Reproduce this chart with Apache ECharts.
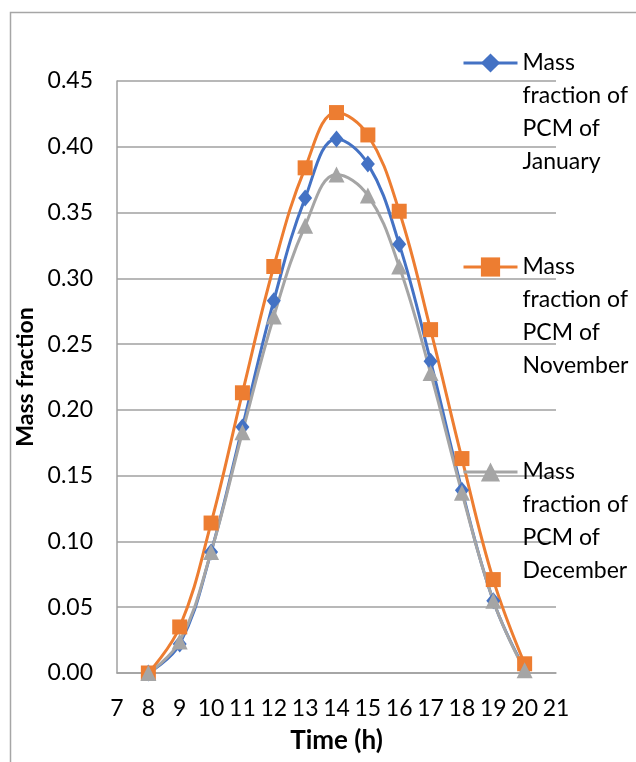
<!DOCTYPE html>
<html>
<head>
<meta charset="utf-8">
<script src="https://cdn.jsdelivr.net/npm/echarts@6/dist/echarts.min.js"></script>
<style>
  html, body { margin: 0; padding: 0; background: #fff; }
  #chart { width: 636px; height: 762px; }
</style>
</head>
<body>
<div id="chart"></div>
<script>
(function () {
    // data
    var hours = [8, 9, 10, 11, 12, 13, 14, 15, 16, 17, 18, 19, 20];
    var january = [0, 0.022, 0.092, 0.187, 0.283, 0.361, 0.406, 0.387, 0.326, 0.237, 0.139, 0.055, 0.003];
    var november = [0, 0.035, 0.114, 0.213, 0.309, 0.384, 0.426, 0.409, 0.351, 0.261, 0.163, 0.071, 0.007];
    var december = [0, 0.024, 0.092, 0.183, 0.271, 0.340, 0.379, 0.363, 0.309, 0.228, 0.137, 0.055, 0.002];
    var seriesNames = ['Mass fraction of PCM of January', 'Mass fraction of PCM of November', 'Mass fraction of PCM of December'];
    var legendLines = {
        'Mass fraction of PCM of January': ['Mass', 'fraction of', 'PCM of', 'January'],
        'Mass fraction of PCM of November': ['Mass', 'fraction of', 'PCM of', 'November'],
        'Mass fraction of PCM of December': ['Mass', 'fraction of', 'PCM of', 'December']
    };

    var font = 'Lato, "Open Sans", sans-serif';
    var gridColor = '#a0a0a0';
    var lineH = 33;

    function pairs(vals) {
        return hours.map(function (h, i) { return [h, vals[i]]; });
    }

    // legend text is centred on the icon, so pad with blank lines above
    // to put the first line ("Mass") level with the icon
    function legendAt(name, iconY) {
        var n = legendLines[name].length;
        var total = (2 * n - 1) * lineH;
        return {
            data: [name],
            left: 462,
            top: iconY - total / 2,
            padding: 0,
            itemWidth: 54,
            itemHeight: 24,
            selectedMode: false,
            lineStyle: { width: 3 },
            formatter: function (nm) {
                var lines = legendLines[nm];
                var pad = [];
                for (var i = 0; i < lines.length - 1; i++) pad.push(' ');
                return pad.concat(lines).join('\n');
            },
            textStyle: {
                fontFamily: font,
                fontSize: 23,
                color: '#000',
                lineHeight: lineH
            }
        };
    }

    var colors = ['#4472c4', '#ed7d31', '#a5a5a5'];

    var option = {
        animation: false,
        color: colors,
        graphic: [{
            type: 'rect',
            left: 8,
            top: 10,
            shape: { width: 700, height: 800 },
            style: { fill: 'none', stroke: '#a6a6a6', lineWidth: 1.5 },
            silent: true
        }],
        legend: [
            legendAt(seriesNames[0], 63),
            legendAt(seriesNames[1], 267),
            legendAt(seriesNames[2], 472)
        ],
        grid: { left: 117, top: 81, right: 80, bottom: 89 },
        xAxis: {
            type: 'value',
            min: 7,
            max: 21,
            interval: 1,
            name: 'Time (h)',
            nameLocation: 'middle',
            nameGap: 55,
            nameTextStyle: { fontFamily: font, fontSize: 26, fontWeight: 'bold', color: '#000' },
            axisLine: { show: true, lineStyle: { color: gridColor, width: 1.5 } },
            axisTick: { show: false },
            axisLabel: { fontFamily: font, fontSize: 23, color: '#000', margin: 24 },
            splitLine: { show: false }
        },
        yAxis: {
            type: 'value',
            min: 0,
            max: 0.45,
            interval: 0.05,
            name: 'Mass fraction',
            nameLocation: 'middle',
            nameGap: 76,
            nameTextStyle: { fontFamily: font, fontSize: 23, fontWeight: 'bold', color: '#000' },
            axisLine: { show: true, lineStyle: { color: gridColor, width: 1.5 } },
            axisTick: { show: false },
            axisLabel: {
                fontFamily: font, fontSize: 23, color: '#000', margin: 24,
                formatter: function (v) { return v.toFixed(2); }
            },
            splitLine: { show: true, lineStyle: { color: gridColor, width: 1.5 } }
        },
        series: [
            {
                name: seriesNames[0],
                type: 'line',
                smooth: 0.4,
                data: pairs(january),
                symbol: 'diamond',
                symbolSize: [14, 17],
                lineStyle: { width: 3 },
                itemStyle: { color: colors[0] }
            },
            {
                name: seriesNames[1],
                type: 'line',
                smooth: 0.4,
                data: pairs(november),
                symbol: 'rect',
                symbolSize: 15,
                lineStyle: { width: 3 },
                itemStyle: { color: colors[1] }
            },
            {
                name: seriesNames[2],
                type: 'line',
                smooth: 0.4,
                data: pairs(december),
                symbol: 'triangle',
                symbolSize: 16,
                lineStyle: { width: 3 },
                itemStyle: { color: colors[2] }
            }
        ]
    };

    var chart = echarts.init(document.getElementById('chart'), null, { renderer: 'canvas' });
    chart.setOption(option);
})();
</script>
</body>
</html>
